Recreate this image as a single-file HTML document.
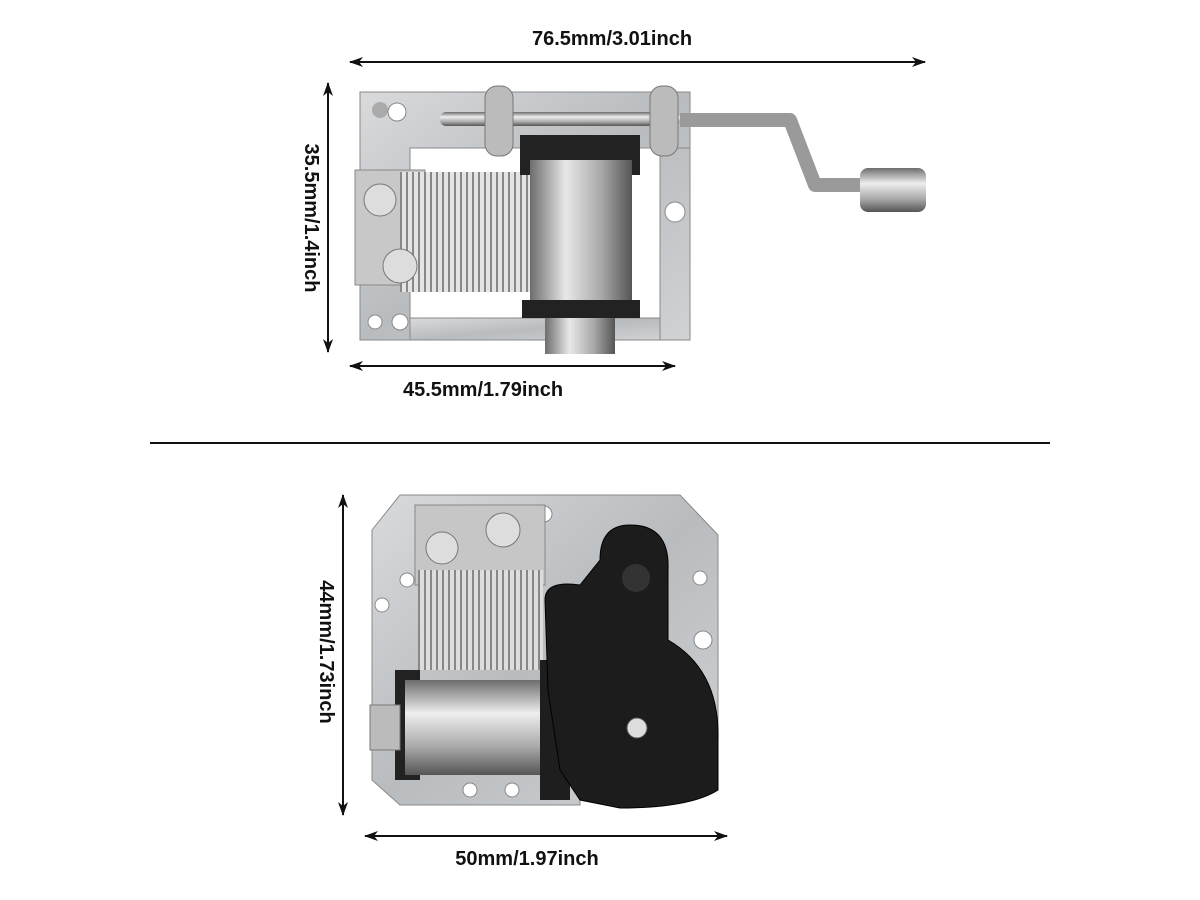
<!DOCTYPE html>
<html><head><meta charset="utf-8"><style>
html,body{margin:0;padding:0;background:#fff;width:1200px;height:900px;overflow:hidden}
svg text{font-family:"Liberation Sans",sans-serif;font-weight:bold;font-size:20px;fill:#111}
</style></head><body>
<svg width="1200" height="900" viewBox="0 0 1200 900">
<defs>
<marker id="a" markerWidth="14" markerHeight="10" refX="13" refY="5" orient="auto-start-reverse" markerUnits="userSpaceOnUse"><path d="M0,0 L14,5 L0,10 L4,5z" fill="#111"/></marker>
<linearGradient id="cyl" x1="0" y1="0" x2="1" y2="0"><stop offset="0" stop-color="#6d6d6d"/><stop offset=".35" stop-color="#e8e8e8"/><stop offset=".7" stop-color="#a8a8a8"/><stop offset="1" stop-color="#555"/></linearGradient>
<linearGradient id="cylh" x1="0" y1="0" x2="0" y2="1"><stop offset="0" stop-color="#6d6d6d"/><stop offset=".35" stop-color="#eee"/><stop offset=".7" stop-color="#aaa"/><stop offset="1" stop-color="#555"/></linearGradient>
<linearGradient id="plate" x1="0" y1="0" x2="1" y2="1"><stop offset="0" stop-color="#d8dadc"/><stop offset=".5" stop-color="#b9bcbf"/><stop offset="1" stop-color="#d0d2d4"/></linearGradient>
<pattern id="comb" width="6" height="10" patternUnits="userSpaceOnUse"><rect width="6" height="10" fill="#e4e4e4"/><rect x="4" width="2" height="10" fill="#888"/></pattern>
<pattern id="combv" width="6" height="10" patternUnits="userSpaceOnUse"><rect width="6" height="10" fill="#ddd"/><rect x="4" width="2" height="10" fill="#888"/></pattern>
</defs>

<!-- Top dimensions -->
<text x="612" y="45" text-anchor="middle">76.5mm/3.01inch</text>
<line x1="350" y1="62" x2="925" y2="62" stroke="#111" stroke-width="2" marker-start="url(#a)" marker-end="url(#a)"/>
<line x1="328" y1="83" x2="328" y2="352" stroke="#111" stroke-width="2" marker-start="url(#a)" marker-end="url(#a)"/>
<text transform="translate(305,218) rotate(90)" text-anchor="middle">35.5mm/1.4inch</text>
<line x1="350" y1="366" x2="675" y2="366" stroke="#111" stroke-width="2" marker-start="url(#a)" marker-end="url(#a)"/>
<text x="483" y="396" text-anchor="middle">45.5mm/1.79inch</text>

<!-- Top mechanism -->
<path d="M360,92 H690 V340 H360 Z M410,148 V340 H660 V148 Z" fill="url(#plate)" fill-rule="evenodd" stroke="#888"/>
<path d="M360,92 H690 V148 H410 V340 H360Z" fill="url(#plate)" stroke="#888"/>
<rect x="410" y="318" width="250" height="22" fill="url(#plate)" stroke="#888"/>
<circle cx="380" cy="110" r="8" fill="#aaa"/><circle cx="397" cy="112" r="9" fill="#fff" stroke="#888"/>
<circle cx="375" cy="322" r="7" fill="#fff" stroke="#888"/><circle cx="400" cy="322" r="8" fill="#fff" stroke="#888"/>
<circle cx="675" cy="212" r="10" fill="#fff" stroke="#888"/>
<rect x="355" y="170" width="70" height="115" fill="#c8c8c8" stroke="#888"/>
<rect x="400" y="172" width="140" height="120" fill="url(#comb)"/>
<circle cx="380" cy="200" r="16" fill="#ddd" stroke="#777"/><circle cx="400" cy="266" r="17" fill="#ddd" stroke="#777"/>
<rect x="520" y="135" width="120" height="40" fill="#222"/>
<rect x="530" y="160" width="102" height="150" fill="url(#cyl)"/>
<rect x="522" y="300" width="118" height="18" fill="#222"/>
<rect x="545" y="318" width="70" height="36" fill="url(#cyl)"/>
<rect x="440" y="112" width="240" height="14" rx="6" fill="url(#cylh)"/>
<rect x="485" y="86" width="28" height="70" rx="12" fill="#bbb" stroke="#777"/>
<rect x="650" y="86" width="28" height="70" rx="12" fill="#bbb" stroke="#777"/>
<path d="M680,120 H790 L815,185 H870" fill="none" stroke="#9a9a9a" stroke-width="14" stroke-linejoin="round"/>
<rect x="860" y="168" width="66" height="44" rx="8" fill="url(#cylh)"/>

<line x1="150" y1="443" x2="1050" y2="443" stroke="#111" stroke-width="2"/>

<!-- Bottom dimensions -->
<line x1="343" y1="495" x2="343" y2="815" stroke="#111" stroke-width="2" marker-start="url(#a)" marker-end="url(#a)"/>
<text transform="translate(320,652) rotate(90)" text-anchor="middle">44mm/1.73inch</text>
<line x1="365" y1="836" x2="727" y2="836" stroke="#111" stroke-width="2" marker-start="url(#a)" marker-end="url(#a)"/>
<text x="527" y="865" text-anchor="middle">50mm/1.97inch</text>

<!-- Bottom mechanism -->
<path d="M400,495 H680 L718,535 V790 H580 V805 H400 L372,780 V530 Z" fill="url(#plate)" stroke="#888"/>
<circle cx="544" cy="514" r="8" fill="#fff" stroke="#888"/>
<circle cx="407" cy="580" r="7" fill="#fff" stroke="#888"/><circle cx="382" cy="605" r="7" fill="#fff" stroke="#888"/>
<circle cx="700" cy="578" r="7" fill="#fff" stroke="#888"/><circle cx="703" cy="640" r="9" fill="#fff" stroke="#888"/>
<circle cx="470" cy="790" r="7" fill="#fff" stroke="#888"/><circle cx="512" cy="790" r="7" fill="#fff" stroke="#888"/>
<rect x="415" y="505" width="130" height="80" fill="#c6c6c6" stroke="#888"/>
<rect x="418" y="570" width="125" height="100" fill="url(#combv)"/>
<circle cx="442" cy="548" r="16" fill="#ddd" stroke="#777"/><circle cx="503" cy="530" r="17" fill="#ddd" stroke="#777"/>
<rect x="395" y="670" width="25" height="110" fill="#222"/>
<rect x="405" y="680" width="140" height="95" fill="url(#cylh)"/>
<rect x="370" y="705" width="30" height="45" fill="#bbb" stroke="#777"/>
<rect x="540" y="660" width="30" height="140" fill="#1e1e1e"/>
<path d="M545,600 Q545,580 580,585 L600,560 Q600,525 630,525 Q670,525 668,570 L668,640 Q720,670 718,740 L718,790 Q690,808 620,808 L580,800 L560,770 L548,690 Z" fill="#1c1c1c" stroke="#000"/>
<circle cx="636" cy="578" r="14" fill="#333"/>
<circle cx="637" cy="728" r="10" fill="#ddd" stroke="#555"/>
</svg>
</body></html>
